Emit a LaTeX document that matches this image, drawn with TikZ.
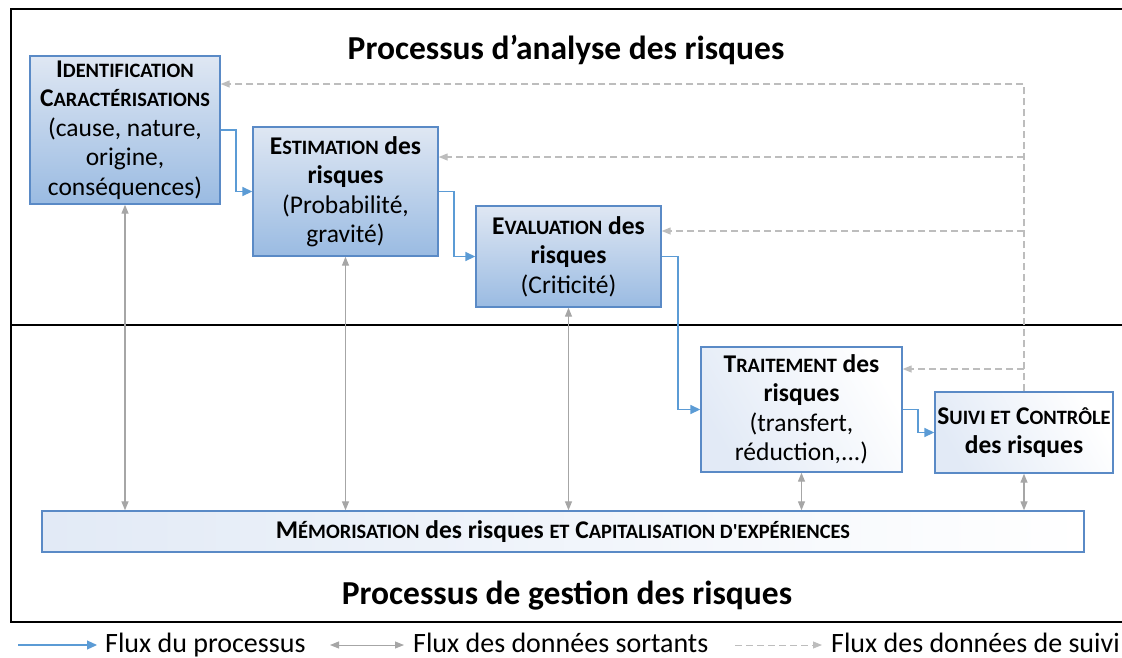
\documentclass[tikz,border=0pt]{standalone}
\usepackage{fontspec}
\setmainfont{Carlito}
\usetikzlibrary{arrows.meta}

\definecolor{bord}{HTML}{5A8AC6}
\definecolor{haut}{HTML}{DFE7F3}
\definecolor{bas}{HTML}{9ABBE2}
\definecolor{clair}{HTML}{E2EAF6}
\definecolor{bleu}{HTML}{5B9BD5}
\definecolor{gris}{HTML}{A6A6A6}
\definecolor{grisc}{HTML}{BDBDBD}

\makeatletter
\newcommand\pc[1]{{\fontsize{\fpeval{0.8*\f@size}}{\f@baselineskip}\selectfont #1}}
\makeatother

\tikzset{
	etape/.style={draw=bord, line width=1.4pt, align=center, inner sep=0pt,
		font=\fontsize{25.5}{29.5}\selectfont, top color=haut, bottom color=bas},
	etapec/.style={etape, left color=clair, right color=white, shading angle=120},
	flux/.style={bleu, line width=1.6pt, -{Triangle[length=10pt,width=9pt]}},
	sortant/.style={gris, line width=1.3pt, {Triangle[length=9pt,width=7pt]}-{Triangle[length=9pt,width=7pt]}},
	retour/.style={grisc, line width=1.3pt, dash pattern=on 7pt off 4pt, -{Triangle[length=9pt,width=7pt]}},
	titre/.style={font=\fontsize{33.5}{40}\selectfont\bfseries},
	legende/.style={font=\fontsize{28}{32}\selectfont, anchor=base west, inner sep=0pt},
}

\begin{document}
\begin{tikzpicture}[x=1pt, y=-1pt]
	\useasboundingbox (0,0) rectangle (1122,657);

	\draw[line width=1.2pt] (1124,9) -- (11,9) -- (11,622) -- (1124,622);
	\draw[line width=1.2pt] (11,325) -- (1124,325);

	\node[titre] (tanalyse) at (566,50) {Processus d’analyse des risques};
	\node[titre] (tgestion) at (567,596) {Processus de gestion des risques};

	\node[etape, minimum width=190pt, minimum height=148pt] (ident) at (125,130)
		{\textbf{I\pc{DENTIFICATION}}\\ \textbf{C\pc{ARACTÉRISATIONS}}\\ (cause, nature,\\ origine,\\ conséquences)};
	\node[etape, minimum width=185pt, minimum height=129pt] (estim) at (345.5,191.5)
		{\textbf{E\pc{STIMATION} des}\\ \textbf{risques}\\ (Probabilité,\\ gravité)};
	\node[etape, minimum width=185pt, minimum height=101pt] (evalu) at (568.5,256.5)
		{\textbf{E\pc{VALUATION} des}\\ \textbf{risques}\\ (Criticité)};
	\node[etapec, minimum width=201pt, minimum height=125pt] (trait) at (801.5,409.5)
		{\textbf{T\pc{RAITEMENT} des}\\ \textbf{risques}\\ (transfert,\\ réduction,...)};
	\node[etapec, minimum width=178pt, minimum height=81pt] (suivi) at (1024,432.5)
		{\textbf{S\pc{UIVI ET} C\pc{ONTRÔLE}}\\ \textbf{des risques}};
	\node[etapec, shading angle=90, minimum width=1042pt, minimum height=41pt] (memo) at (563,531.5)
		{\textbf{M\pc{ÉMORISATION} des risques \pc{ET} C\pc{APITALISATION D\textquotesingle EXPÉRIENCES}}};

	% flux du processus
	\draw[flux] (ident.east) -- ++(15,0) |- (estim.west);
	\draw[flux] (estim.east) -- ++(15,0) |- (evalu.west);
	\draw[flux] (evalu.east) -- ++(16,0) |- (trait.west);
	\draw[flux] (trait.east) -- ++(15,0) |- (suivi.west);

	% donnees sortantes
	\foreach \n in {ident, estim, evalu, trait, suivi}
		\draw[sortant] (\n.south) -- (\n.south |- memo.north);

	% donnees de suivi
	\coordinate (coin) at (1024,84);
	\draw[retour] (suivi.north) -- (coin) -- (ident.east |- coin);
	\foreach \n/\y in {estim/157, evalu/231, trait/369}
		\draw[retour] (1024,\y) -- (\n.east |- 0,\y);

	% legende
	\node[legende] (lflux) at (105,652) {Flux du processus};
	\node[legende] (lsort) at (413,652) {Flux des données sortants};
	\node[legende] (lsuiv) at (831,652) {Flux des données de suivi};
	\coordinate (dflux) at (18,645);
	\coordinate (dsort) at (330,645);
	\coordinate (dsuiv) at (735,645);
	\draw[flux, line width=1.1pt] (dflux) -- (dflux -| 97,0);
	\draw[sortant, line width=1pt] (dsort) -- (dsort -| 404,0);
	\draw[retour, line width=1pt] (dsuiv) -- (dsuiv -| 822,0);
\end{tikzpicture}
\end{document}
